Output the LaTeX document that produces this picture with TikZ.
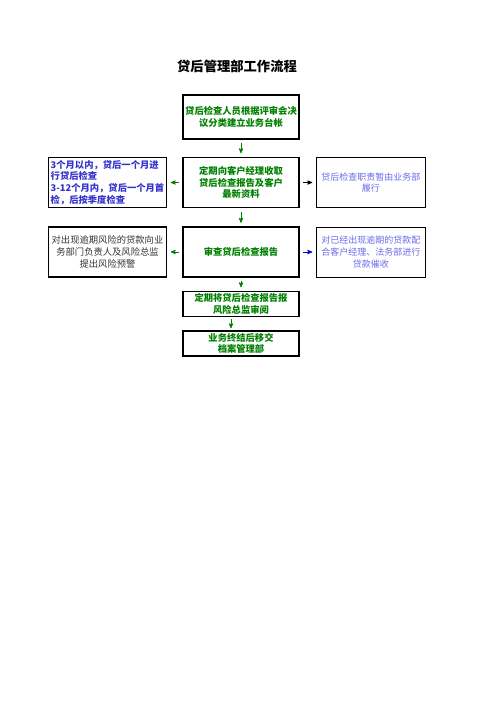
\documentclass[tikz,border=0pt]{standalone}
\usepackage{fontspec}
\usepackage{xcolor}
\usetikzlibrary{positioning, arrows}
\setmainfont{Noto Sans CJK SC}
\definecolor{flowgreen}{RGB}{0,128,0}
\definecolor{noteblue}{RGB}{51,51,204}
\definecolor{lightblue}{RGB}{105,105,235}
\definecolor{arrowblue}{RGB}{0,0,204}
\tikzset{
	->,
	>=stealth',
	x=1pt, y=-1pt,
	node distance=15pt,
	mainbox/.style={draw, line width=1.5pt, minimum width=116pt, inner sep=2pt, align=center,
		text=flowgreen, font=\bfseries\fontsize{9.3}{11.7}\selectfont},
	notebox/.style={draw, line width=1.5pt, minimum width=118pt, minimum height=50pt, inner sep=2pt,
		font=\fontsize{9.3}{11.7}\selectfont},
	sidebox/.style={draw, line width=1pt, minimum width=109pt, minimum height=50pt, inner sep=2pt, align=center,
		text=lightblue, font=\fontsize{9}{11.7}\selectfont},
	flow/.style={line width=0.8pt, shorten >=3.5pt, shorten <=3.5pt}}

\begin{document}
\begin{tikzpicture}
		\useasboundingbox[-] (0,0) rectangle (496,702);
		\node[font=\bfseries\fontsize{13.3}{16}\selectfont] (title) at (237,66) {贷后管理部工作流程};

		\node[mainbox, minimum height=44pt] (b1) at (241,117) {贷后检查人员根据评审会决\\议分类建立业务台帐};
		\node[mainbox, minimum height=50pt, below=17pt of b1] (b2) {定期向客户经理收取\\贷后检查报告及客户\\最新资料};
		\node[mainbox, minimum height=50pt, below=18pt of b2] (b3) {审查贷后检查报告};
		\node[mainbox, minimum height=25pt, below=13pt of b3] (b4) {定期将贷后检查报告报\\风险总监审阅};
		\node[mainbox, minimum height=25pt, below=13pt of b4] (b5) {业务终结后移交\\档案管理部};

		\node[notebox, left=of b2, align=left, text=noteblue, font=\bfseries\fontsize{9.3}{11.7}\selectfont] (l2)
			{3个月以内，贷后一个月进\\行贷后检查\\3-12个月内，贷后一个月首\\检，后按季度检查};
		\node[notebox, left=of b3, align=center, text=black!80] (l3)
			{对出现逾期风险的贷款向业\\务部门负责人及风险总监\\提出风险预警};
		\node[sidebox, right=16pt of b2] (r2) {贷后检查职责暂由业务部\\履行};
		\node[sidebox, right=16pt of b3] (r3) {对已经出现逾期的贷款配\\合客户经理、法务部进行\\贷款催收};

		\draw[flow, flowgreen]
		(b1) edge (b2)
		(b2) edge (b3)
		(b3) edge (b4)
		(b2) edge (l2)
		(b3) edge (l3)
		;
		\draw[flow, flowgreen, shorten >=2pt, shorten <=2pt] ([xshift=-10pt]b4.south) -- ([xshift=-10pt]b5.north);
		\draw[flow] (b2) edge (r2);
		\draw[flow, arrowblue] (b3) edge (r3);
	\end{tikzpicture}
\end{document}
